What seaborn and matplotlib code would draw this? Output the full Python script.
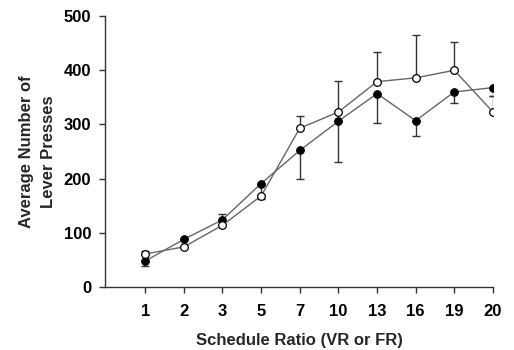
import numpy as np
import seaborn as sns
import matplotlib

matplotlib.use('Agg')
import matplotlib.pyplot as plt

# data
ratio_labels = ['1', '2', '3', '5', '7', '10', '13', '16', '19', '20']
open_mean = [61, 74, 114, 168, 293, 323, 379, 386, 400, 323]
open_err_up = [5, 0, 20, 0, 22, 57, 55, 80, 52, 29]
filled_mean = [48, 88, 124, 191, 252, 306, 357, 307, 360, 368]
filled_err_down = [10, 0, 0, 29, 53, 76, 55, 29, 20, 16]

sns.set_style('ticks')
plt.rcParams['font.family'] = ['Liberation Sans', 'DejaVu Sans']
plt.rcParams['font.weight'] = 'bold'

fig = plt.figure(figsize=(5.14, 3.5), dpi=100)
ax = fig.add_axes([0.2043, 0.18, 0.7547, 0.774])

zeros = np.zeros(len(ratio_labels))

# error bars (open up, filled down)
ax.errorbar(ratio_labels, open_mean, yerr=[zeros, open_err_up], fmt='none',
            ecolor='#333333', elinewidth=1, capsize=3, capthick=1, zorder=1)
ax.errorbar(ratio_labels, filled_mean, yerr=[filled_err_down, zeros], fmt='none',
            ecolor='#333333', elinewidth=1, capsize=3, capthick=1, zorder=1)

# lines with markers
sns.lineplot(x=ratio_labels, y=filled_mean, sort=False, color='#666666', linewidth=1,
             marker='o', markersize=5.5, markerfacecolor='black', markeredgecolor='black',
             ax=ax, zorder=3)
sns.lineplot(x=ratio_labels, y=open_mean, sort=False, color='#666666', linewidth=1,
             marker='o', markersize=5.5, markerfacecolor='white', markeredgecolor='black',
             markeredgewidth=0.9, ax=ax, zorder=4)

ax.set_xlim(-1.04, 9)
ax.set_ylim(0, 500)
ax.set_yticks([0, 100, 200, 300, 400, 500])

for side in ['top', 'right']:
    ax.spines[side].set_visible(False)
for side in ['left', 'bottom']:
    ax.spines[side].set_color('#333333')
    ax.spines[side].set_linewidth(1)

ax.tick_params(axis='both', direction='out', length=4, width=1, color='#333333',
               labelsize=12, labelcolor='black')
ax.tick_params(axis='x', pad=8)
ax.tick_params(axis='y', pad=6)
for lbl in ax.get_xticklabels() + ax.get_yticklabels():
    lbl.set_fontweight('bold')

ax.set_xlabel('Schedule Ratio (VR or FR)', fontsize=12, fontweight='bold', va='center')
ax.xaxis.set_label_coords(0.5, -0.196)
ax.set_ylabel('Average Number of\nLever Presses', fontsize=12, fontweight='bold',
              linespacing=1.6, va='center')
ax.yaxis.set_label_coords(-0.175, 0.5)

plt.savefig('out.png', dpi=100)
plt.close('all')
